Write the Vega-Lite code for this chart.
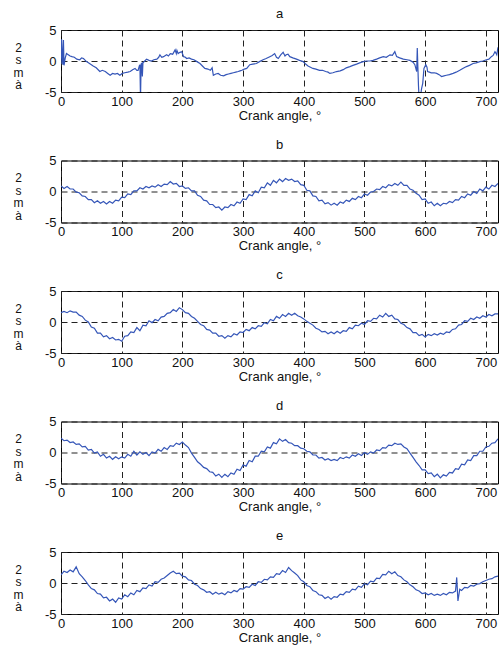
{
  "$schema": "https://vega.github.io/schema/vega-lite/v6.json",
  "background": "white",
  "padding": {"left": 12, "top": 7, "right": 2, "bottom": 0},
  "spacing": 68.5,
  "bounds": "flush",
  "config": {
    "font": "Liberation Sans",
    "view": {"stroke": "#000", "strokeWidth": 1},
    "title": {"font": "Liberation Sans", "fontSize": 13, "fontWeight": "normal", "color": "#111", "anchor": "middle", "baseline": "alphabetic", "offset": 3},
    "axis": {
      "labelFont": "Liberation Sans", "labelFontSize": 13, "labelColor": "#111",
      "titleFont": "Liberation Sans", "titleFontSize": 13, "titleFontWeight": "normal", "titleColor": "#111",
      "ticks": false, "domain": false,
      "grid": true, "gridColor": "#222", "gridDash": [6, 4], "gridWidth": 1, "gridOpacity": 1,
      "labelFlush": false
    },
    "axisX": {"labelPadding": 3, "titlePadding": 1},
    "axisY": {"labelPadding": 5, "titleAngle": 0, "titleX": -43, "titleY": 12, "titleAlign": "center", "titleBaseline": "top", "titleFontSize": 12, "titleLineHeight": 12.5}
  },
  "datasets": {
    "a": [
      {"x":0,"y":-0.5},{"x":1,"y":3.5},{"x":2,"y":1.0},{"x":3,"y":-0.6},{"x":4,"y":3.4},{"x":5,"y":-0.7},{"x":7,"y":0.5},{"x":9,"y":1.2},{"x":12,"y":1.0},{"x":15,"y":0.8},{"x":18,"y":0.7},{"x":22,"y":0.6},{"x":26,"y":0.3},{"x":31,"y":0.2},{"x":34,"y":0.5},{"x":37,"y":0.4},{"x":40,"y":0.1},{"x":42,"y":-0.1},{"x":47,"y":-0.4},{"x":53,"y":-0.8},{"x":58,"y":-1.1},{"x":64,"y":-1.7},{"x":68,"y":-1.5},{"x":73,"y":-1.7},{"x":77,"y":-2.0},{"x":81,"y":-2.3},{"x":85,"y":-2.0},{"x":89,"y":-2.1},{"x":93,"y":-2.0},{"x":97,"y":-2.3},{"x":101,"y":-2.0},{"x":105,"y":-1.9},{"x":110,"y":-1.8},{"x":114,"y":-1.7},{"x":118,"y":-1.4},{"x":122,"y":-1.2},{"x":125,"y":-1.5},{"x":127,"y":-1.5},{"x":129,"y":-0.8},{"x":130,"y":-0.6},{"x":131,"y":-6},{"x":132,"y":-0.5},{"x":133,"y":-0.4},{"x":134,"y":-2.5},{"x":135,"y":-0.3},{"x":138,"y":0.0},{"x":141,"y":0.3},{"x":145,"y":0.1},{"x":149,"y":0.0},{"x":153,"y":0.2},{"x":158,"y":0.3},{"x":161,"y":0.6},{"x":163,"y":1.0},{"x":166,"y":0.6},{"x":169,"y":0.7},{"x":172,"y":0.9},{"x":174,"y":1.0},{"x":177,"y":0.8},{"x":180,"y":1.2},{"x":184,"y":1.1},{"x":188,"y":1.8},{"x":190,"y":1.2},{"x":191,"y":1.7},{"x":193,"y":1.2},{"x":196,"y":1.4},{"x":199,"y":1.5},{"x":202,"y":0.7},{"x":205,"y":0.6},{"x":207,"y":0.4},{"x":211,"y":0.5},{"x":215,"y":0.3},{"x":219,"y":0.2},{"x":224,"y":-0.1},{"x":229,"y":-0.4},{"x":233,"y":-0.8},{"x":237,"y":-1.2},{"x":242,"y":-1.3},{"x":246,"y":-1.5},{"x":249,"y":-1.1},{"x":251,"y":-2.3},{"x":255,"y":-2.1},{"x":259,"y":-2.0},{"x":263,"y":-2.3},{"x":268,"y":-2.4},{"x":272,"y":-2.2},{"x":276,"y":-2.1},{"x":280,"y":-2.0},{"x":284,"y":-1.9},{"x":288,"y":-1.8},{"x":292,"y":-1.7},{"x":295,"y":-1.6},{"x":298,"y":-1.5},{"x":302,"y":-1.3},{"x":306,"y":-1.2},{"x":311,"y":-0.6},{"x":316,"y":-0.5},{"x":322,"y":-0.4},{"x":327,"y":-0.1},{"x":333,"y":0.2},{"x":338,"y":0.4},{"x":344,"y":0.7},{"x":348,"y":0.9},{"x":352,"y":1.2},{"x":355,"y":0.6},{"x":358,"y":0.4},{"x":362,"y":1.0},{"x":366,"y":1.4},{"x":369,"y":0.8},{"x":371,"y":1.0},{"x":374,"y":1.1},{"x":377,"y":0.7},{"x":382,"y":0.5},{"x":388,"y":0.3},{"x":393,"y":0.1},{"x":399,"y":-0.1},{"x":403,"y":-0.5},{"x":407,"y":-0.8},{"x":411,"y":-1.0},{"x":415,"y":-1.2},{"x":420,"y":-1.3},{"x":426,"y":-1.5},{"x":431,"y":-1.5},{"x":436,"y":-1.7},{"x":440,"y":-1.8},{"x":443,"y":-2.0},{"x":448,"y":-1.9},{"x":454,"y":-1.7},{"x":460,"y":-1.6},{"x":465,"y":-1.4},{"x":470,"y":-1.1},{"x":476,"y":-0.9},{"x":481,"y":-0.7},{"x":487,"y":-0.5},{"x":492,"y":-0.3},{"x":498,"y":-0.1},{"x":503,"y":0.0},{"x":509,"y":0.0},{"x":514,"y":0.1},{"x":520,"y":0.3},{"x":525,"y":0.5},{"x":531,"y":0.7},{"x":536,"y":0.6},{"x":542,"y":1.0},{"x":546,"y":0.9},{"x":550,"y":1.5},{"x":553,"y":0.7},{"x":558,"y":0.5},{"x":564,"y":0.3},{"x":570,"y":0.2},{"x":575,"y":0.1},{"x":580,"y":-0.2},{"x":583,"y":-0.6},{"x":586,"y":-1.7},{"x":587,"y":2.1},{"x":588,"y":-1.0},{"x":589,"y":-4.0},{"x":590,"y":-6},{"x":592,"y":-6},{"x":594,"y":-4.5},{"x":596,"y":-3.6},{"x":598,"y":-1.2},{"x":600,"y":-0.8},{"x":601,"y":-0.6},{"x":603,"y":-1.0},{"x":604,"y":-1.7},{"x":607,"y":-1.8},{"x":610,"y":-1.9},{"x":615,"y":-1.9},{"x":619,"y":-2.0},{"x":623,"y":-2.2},{"x":627,"y":-2.5},{"x":631,"y":-2.4},{"x":635,"y":-2.3},{"x":640,"y":-2.2},{"x":646,"y":-2.0},{"x":651,"y":-1.8},{"x":657,"y":-1.5},{"x":662,"y":-1.2},{"x":668,"y":-0.9},{"x":673,"y":-0.7},{"x":679,"y":-0.4},{"x":684,"y":-0.3},{"x":690,"y":-0.1},{"x":695,"y":0.0},{"x":701,"y":0.2},{"x":705,"y":0.3},{"x":709,"y":0.7},{"x":712,"y":0.9},{"x":715,"y":1.5},{"x":717,"y":1.2},{"x":718,"y":1.0},{"x":720,"y":2.2}
    ],
    "b": [
      {"x":0,"y":0.9},{"x":5,"y":0.5},{"x":10,"y":0.8},{"x":15,"y":0.4},{"x":20,"y":0.4},{"x":25,"y":-0.1},{"x":30,"y":-0.2},{"x":35,"y":-0.7},{"x":40,"y":-0.8},{"x":45,"y":-1.3},{"x":50,"y":-1.3},{"x":55,"y":-1.8},{"x":60,"y":-1.5},{"x":65,"y":-1.9},{"x":70,"y":-1.6},{"x":75,"y":-2.0},{"x":80,"y":-1.6},{"x":85,"y":-1.9},{"x":90,"y":-1.4},{"x":95,"y":-1.5},{"x":100,"y":-0.9},{"x":105,"y":-1.0},{"x":110,"y":-0.4},{"x":115,"y":-0.5},{"x":120,"y":0.1},{"x":125,"y":0.1},{"x":130,"y":0.6},{"x":135,"y":0.4},{"x":140,"y":0.8},{"x":145,"y":0.6},{"x":150,"y":0.9},{"x":155,"y":0.7},{"x":160,"y":1.1},{"x":165,"y":0.8},{"x":170,"y":1.2},{"x":175,"y":1.1},{"x":180,"y":1.6},{"x":185,"y":1.2},{"x":190,"y":1.3},{"x":195,"y":0.8},{"x":200,"y":0.9},{"x":205,"y":0.5},{"x":210,"y":0.6},{"x":215,"y":0.1},{"x":220,"y":0.1},{"x":225,"y":-0.6},{"x":230,"y":-0.8},{"x":235,"y":-1.4},{"x":240,"y":-1.5},{"x":245,"y":-2.1},{"x":250,"y":-2.1},{"x":255,"y":-2.6},{"x":260,"y":-2.5},{"x":265,"y":-3.0},{"x":270,"y":-2.5},{"x":275,"y":-2.6},{"x":280,"y":-2.1},{"x":285,"y":-2.3},{"x":290,"y":-1.7},{"x":295,"y":-1.9},{"x":300,"y":-1.2},{"x":305,"y":-1.3},{"x":310,"y":-0.5},{"x":315,"y":-0.7},{"x":320,"y":0.1},{"x":325,"y":-0.2},{"x":330,"y":0.7},{"x":335,"y":0.6},{"x":340,"y":1.4},{"x":345,"y":1.0},{"x":350,"y":1.8},{"x":355,"y":1.4},{"x":360,"y":2.0},{"x":365,"y":1.6},{"x":370,"y":2.1},{"x":375,"y":1.8},{"x":380,"y":2.0},{"x":385,"y":1.6},{"x":390,"y":1.7},{"x":395,"y":1.1},{"x":400,"y":1.0},{"x":405,"y":0.2},{"x":410,"y":0.1},{"x":415,"y":-0.7},{"x":420,"y":-0.8},{"x":425,"y":-1.5},{"x":430,"y":-1.4},{"x":435,"y":-2.0},{"x":440,"y":-1.8},{"x":445,"y":-2.2},{"x":450,"y":-1.9},{"x":455,"y":-2.2},{"x":460,"y":-1.7},{"x":465,"y":-1.9},{"x":470,"y":-1.4},{"x":475,"y":-1.6},{"x":480,"y":-1.1},{"x":485,"y":-1.3},{"x":490,"y":-0.8},{"x":495,"y":-1.0},{"x":500,"y":-0.4},{"x":505,"y":-0.6},{"x":510,"y":-0.1},{"x":515,"y":0.0},{"x":520,"y":0.4},{"x":525,"y":0.3},{"x":530,"y":0.8},{"x":535,"y":0.6},{"x":540,"y":1.1},{"x":545,"y":0.9},{"x":550,"y":1.3},{"x":555,"y":1.0},{"x":560,"y":1.5},{"x":565,"y":1.0},{"x":570,"y":1.0},{"x":575,"y":0.4},{"x":580,"y":0.2},{"x":585,"y":-0.3},{"x":590,"y":-0.6},{"x":595,"y":-1.3},{"x":600,"y":-1.2},{"x":605,"y":-1.9},{"x":610,"y":-1.7},{"x":615,"y":-2.3},{"x":620,"y":-1.9},{"x":625,"y":-2.3},{"x":630,"y":-1.9},{"x":635,"y":-2.0},{"x":640,"y":-1.6},{"x":645,"y":-1.8},{"x":650,"y":-1.3},{"x":655,"y":-1.4},{"x":660,"y":-0.8},{"x":665,"y":-1.0},{"x":670,"y":-0.4},{"x":675,"y":-0.6},{"x":680,"y":0.0},{"x":685,"y":-0.3},{"x":690,"y":0.4},{"x":695,"y":0.1},{"x":700,"y":0.7},{"x":705,"y":0.4},{"x":710,"y":1.0},{"x":715,"y":0.8},{"x":720,"y":1.3}
    ],
    "c": [
      {"x":0,"y":1.5},{"x":5,"y":1.7},{"x":10,"y":1.5},{"x":15,"y":1.8},{"x":20,"y":1.6},{"x":25,"y":1.6},{"x":30,"y":1.1},{"x":35,"y":0.9},{"x":40,"y":0.3},{"x":45,"y":0.0},{"x":50,"y":-0.8},{"x":55,"y":-1.0},{"x":60,"y":-1.8},{"x":65,"y":-1.8},{"x":70,"y":-2.4},{"x":75,"y":-2.2},{"x":80,"y":-2.7},{"x":85,"y":-2.5},{"x":90,"y":-2.9},{"x":95,"y":-2.8},{"x":100,"y":-3.1},{"x":105,"y":-2.3},{"x":110,"y":-2.2},{"x":115,"y":-1.6},{"x":120,"y":-1.7},{"x":125,"y":-0.9},{"x":130,"y":-1.4},{"x":135,"y":-0.5},{"x":140,"y":-0.6},{"x":145,"y":0.2},{"x":150,"y":-0.1},{"x":155,"y":0.4},{"x":160,"y":0.2},{"x":165,"y":0.8},{"x":170,"y":0.9},{"x":175,"y":1.4},{"x":180,"y":1.5},{"x":185,"y":2.0},{"x":190,"y":1.7},{"x":195,"y":2.3},{"x":200,"y":2.0},{"x":205,"y":1.5},{"x":210,"y":1.4},{"x":215,"y":0.9},{"x":220,"y":0.6},{"x":225,"y":0.1},{"x":230,"y":-0.4},{"x":235,"y":-0.6},{"x":240,"y":-1.2},{"x":245,"y":-1.3},{"x":250,"y":-1.8},{"x":255,"y":-1.8},{"x":260,"y":-2.3},{"x":265,"y":-2.2},{"x":270,"y":-2.6},{"x":275,"y":-2.2},{"x":280,"y":-2.4},{"x":285,"y":-1.9},{"x":290,"y":-2.1},{"x":295,"y":-1.6},{"x":300,"y":-1.7},{"x":305,"y":-1.2},{"x":310,"y":-1.4},{"x":315,"y":-0.9},{"x":320,"y":-1.1},{"x":325,"y":-0.6},{"x":330,"y":-0.7},{"x":335,"y":-0.1},{"x":340,"y":-0.3},{"x":345,"y":0.4},{"x":350,"y":0.2},{"x":355,"y":0.9},{"x":360,"y":0.6},{"x":365,"y":1.2},{"x":370,"y":0.9},{"x":375,"y":1.4},{"x":380,"y":1.1},{"x":385,"y":1.4},{"x":390,"y":1.0},{"x":395,"y":0.8},{"x":400,"y":0.5},{"x":405,"y":0.1},{"x":410,"y":-0.2},{"x":415,"y":-0.5},{"x":420,"y":-1.0},{"x":425,"y":-1.2},{"x":430,"y":-1.6},{"x":435,"y":-1.5},{"x":440,"y":-1.9},{"x":445,"y":-1.6},{"x":450,"y":-1.9},{"x":455,"y":-1.5},{"x":460,"y":-1.8},{"x":465,"y":-1.4},{"x":470,"y":-1.5},{"x":475,"y":-0.9},{"x":480,"y":-1.1},{"x":485,"y":-0.5},{"x":490,"y":-0.6},{"x":495,"y":-0.2},{"x":500,"y":-0.4},{"x":505,"y":0.2},{"x":510,"y":0.1},{"x":515,"y":0.6},{"x":520,"y":0.5},{"x":525,"y":1.1},{"x":530,"y":0.8},{"x":535,"y":1.4},{"x":540,"y":0.9},{"x":545,"y":1.1},{"x":550,"y":0.5},{"x":555,"y":0.4},{"x":560,"y":-0.2},{"x":565,"y":-0.4},{"x":570,"y":-0.9},{"x":575,"y":-1.1},{"x":580,"y":-1.7},{"x":585,"y":-1.7},{"x":590,"y":-2.2},{"x":595,"y":-2.0},{"x":600,"y":-2.4},{"x":605,"y":-2.0},{"x":610,"y":-2.2},{"x":615,"y":-1.9},{"x":620,"y":-2.1},{"x":625,"y":-1.8},{"x":630,"y":-2.0},{"x":635,"y":-1.6},{"x":640,"y":-1.7},{"x":645,"y":-1.2},{"x":650,"y":-1.1},{"x":655,"y":-0.5},{"x":660,"y":-0.4},{"x":665,"y":0.2},{"x":670,"y":0.1},{"x":675,"y":0.6},{"x":680,"y":0.4},{"x":685,"y":0.8},{"x":690,"y":0.6},{"x":695,"y":1.0},{"x":700,"y":0.8},{"x":705,"y":1.2},{"x":710,"y":1.0},{"x":715,"y":1.3},{"x":720,"y":1.3}
    ],
    "d": [
      {"x":0,"y":2.3},{"x":5,"y":1.9},{"x":10,"y":2.0},{"x":15,"y":1.6},{"x":20,"y":1.7},{"x":25,"y":1.3},{"x":30,"y":1.4},{"x":35,"y":0.9},{"x":40,"y":1.0},{"x":45,"y":0.4},{"x":50,"y":0.5},{"x":55,"y":-0.1},{"x":60,"y":0.1},{"x":65,"y":-0.6},{"x":70,"y":-0.3},{"x":75,"y":-0.9},{"x":80,"y":-0.6},{"x":85,"y":-1.1},{"x":90,"y":-0.7},{"x":95,"y":-1.0},{"x":100,"y":-0.7},{"x":105,"y":-0.9},{"x":110,"y":-0.3},{"x":115,"y":-0.6},{"x":120,"y":0.2},{"x":125,"y":-0.4},{"x":130,"y":0.1},{"x":135,"y":-0.3},{"x":140,"y":0.0},{"x":145,"y":-0.5},{"x":150,"y":0.1},{"x":155,"y":-0.1},{"x":160,"y":0.5},{"x":165,"y":0.2},{"x":170,"y":0.8},{"x":175,"y":0.5},{"x":180,"y":1.1},{"x":185,"y":1.0},{"x":190,"y":1.5},{"x":195,"y":1.3},{"x":200,"y":1.7},{"x":205,"y":1.2},{"x":210,"y":0.8},{"x":215,"y":-0.1},{"x":220,"y":-0.8},{"x":225,"y":-1.5},{"x":230,"y":-1.9},{"x":235,"y":-2.4},{"x":240,"y":-2.6},{"x":245,"y":-3.1},{"x":250,"y":-3.2},{"x":255,"y":-3.8},{"x":260,"y":-3.5},{"x":265,"y":-4.0},{"x":270,"y":-3.5},{"x":275,"y":-3.9},{"x":280,"y":-3.3},{"x":285,"y":-3.5},{"x":290,"y":-2.7},{"x":295,"y":-2.9},{"x":300,"y":-2.0},{"x":305,"y":-2.2},{"x":310,"y":-1.3},{"x":315,"y":-1.5},{"x":320,"y":-0.6},{"x":325,"y":-0.6},{"x":330,"y":0.2},{"x":335,"y":0.1},{"x":340,"y":0.9},{"x":345,"y":0.7},{"x":350,"y":1.6},{"x":355,"y":1.4},{"x":360,"y":2.2},{"x":365,"y":1.8},{"x":370,"y":2.1},{"x":375,"y":1.6},{"x":380,"y":1.5},{"x":385,"y":1.1},{"x":390,"y":1.1},{"x":395,"y":0.7},{"x":400,"y":0.6},{"x":405,"y":0.2},{"x":410,"y":0.1},{"x":415,"y":-0.4},{"x":420,"y":-0.4},{"x":425,"y":-0.9},{"x":430,"y":-0.8},{"x":435,"y":-1.2},{"x":440,"y":-1.0},{"x":445,"y":-1.3},{"x":450,"y":-1.1},{"x":455,"y":-1.3},{"x":460,"y":-0.8},{"x":465,"y":-1.0},{"x":470,"y":-0.7},{"x":475,"y":-0.9},{"x":480,"y":-0.4},{"x":485,"y":-0.6},{"x":490,"y":-0.2},{"x":495,"y":-0.5},{"x":500,"y":0.0},{"x":505,"y":-0.3},{"x":510,"y":0.1},{"x":515,"y":-0.1},{"x":520,"y":0.4},{"x":525,"y":0.3},{"x":530,"y":0.8},{"x":535,"y":0.7},{"x":540,"y":1.2},{"x":545,"y":1.1},{"x":550,"y":1.5},{"x":555,"y":1.3},{"x":560,"y":1.4},{"x":565,"y":0.9},{"x":570,"y":0.6},{"x":575,"y":-0.1},{"x":580,"y":-0.8},{"x":585,"y":-1.5},{"x":590,"y":-2.1},{"x":595,"y":-2.8},{"x":600,"y":-2.8},{"x":605,"y":-3.4},{"x":610,"y":-3.3},{"x":615,"y":-3.9},{"x":620,"y":-3.5},{"x":625,"y":-4.1},{"x":630,"y":-3.6},{"x":635,"y":-3.8},{"x":640,"y":-3.2},{"x":645,"y":-3.3},{"x":650,"y":-2.6},{"x":655,"y":-2.7},{"x":660,"y":-1.9},{"x":665,"y":-2.0},{"x":670,"y":-1.2},{"x":675,"y":-1.3},{"x":680,"y":-0.5},{"x":685,"y":-0.5},{"x":690,"y":0.2},{"x":695,"y":0.2},{"x":700,"y":0.9},{"x":705,"y":1.0},{"x":710,"y":1.5},{"x":715,"y":1.6},{"x":720,"y":2.2}
    ],
    "e": [
      {"x":0,"y":1.3},{"x":5,"y":1.9},{"x":10,"y":1.7},{"x":15,"y":2.1},{"x":20,"y":1.8},{"x":25,"y":2.6},{"x":30,"y":1.5},{"x":35,"y":1.0},{"x":40,"y":0.4},{"x":45,"y":-0.3},{"x":50,"y":-0.9},{"x":55,"y":-1.1},{"x":60,"y":-1.7},{"x":65,"y":-1.8},{"x":70,"y":-2.4},{"x":75,"y":-2.3},{"x":80,"y":-2.9},{"x":85,"y":-2.6},{"x":90,"y":-3.1},{"x":95,"y":-2.4},{"x":100,"y":-2.6},{"x":105,"y":-1.9},{"x":110,"y":-2.2},{"x":115,"y":-1.6},{"x":120,"y":-1.9},{"x":125,"y":-1.2},{"x":130,"y":-1.4},{"x":135,"y":-0.8},{"x":140,"y":-0.9},{"x":145,"y":-0.3},{"x":150,"y":-0.5},{"x":155,"y":0.2},{"x":160,"y":0.1},{"x":165,"y":0.6},{"x":170,"y":0.8},{"x":175,"y":1.2},{"x":180,"y":1.6},{"x":185,"y":1.9},{"x":190,"y":1.5},{"x":195,"y":1.6},{"x":200,"y":1.1},{"x":205,"y":1.0},{"x":210,"y":0.5},{"x":215,"y":0.4},{"x":220,"y":-0.2},{"x":225,"y":-0.4},{"x":230,"y":-0.9},{"x":235,"y":-1.1},{"x":240,"y":-1.5},{"x":245,"y":-1.4},{"x":250,"y":-1.8},{"x":255,"y":-1.5},{"x":260,"y":-1.8},{"x":265,"y":-1.6},{"x":270,"y":-1.9},{"x":275,"y":-1.4},{"x":280,"y":-1.6},{"x":285,"y":-1.2},{"x":290,"y":-1.4},{"x":295,"y":-0.9},{"x":300,"y":-1.0},{"x":305,"y":-0.6},{"x":310,"y":-0.7},{"x":315,"y":-0.2},{"x":320,"y":-0.4},{"x":325,"y":0.2},{"x":330,"y":0.1},{"x":335,"y":0.6},{"x":340,"y":0.5},{"x":345,"y":1.0},{"x":350,"y":0.9},{"x":355,"y":1.5},{"x":360,"y":1.4},{"x":365,"y":2.0},{"x":370,"y":1.7},{"x":375,"y":2.5},{"x":380,"y":2.0},{"x":385,"y":1.6},{"x":390,"y":1.2},{"x":395,"y":0.5},{"x":400,"y":0.2},{"x":405,"y":-0.4},{"x":410,"y":-0.6},{"x":415,"y":-1.2},{"x":420,"y":-1.4},{"x":425,"y":-1.9},{"x":430,"y":-2.0},{"x":435,"y":-2.5},{"x":440,"y":-2.2},{"x":445,"y":-2.6},{"x":450,"y":-2.2},{"x":455,"y":-2.3},{"x":460,"y":-1.8},{"x":465,"y":-1.9},{"x":470,"y":-1.4},{"x":475,"y":-1.5},{"x":480,"y":-1.0},{"x":485,"y":-1.1},{"x":490,"y":-0.5},{"x":495,"y":-0.7},{"x":500,"y":-0.1},{"x":505,"y":-0.3},{"x":510,"y":0.3},{"x":515,"y":0.2},{"x":520,"y":0.8},{"x":525,"y":0.7},{"x":530,"y":1.4},{"x":535,"y":1.3},{"x":540,"y":1.9},{"x":545,"y":1.5},{"x":550,"y":1.8},{"x":555,"y":1.2},{"x":560,"y":1.0},{"x":565,"y":0.5},{"x":570,"y":0.2},{"x":575,"y":-0.3},{"x":580,"y":-0.6},{"x":585,"y":-1.1},{"x":590,"y":-1.3},{"x":595,"y":-1.7},{"x":600,"y":-1.6},{"x":605,"y":-1.9},{"x":610,"y":-1.7},{"x":615,"y":-2.0},{"x":620,"y":-1.8},{"x":625,"y":-2.0},{"x":630,"y":-1.7},{"x":635,"y":-1.9},{"x":640,"y":-1.5},{"x":645,"y":-1.6},{"x":650,"y":-1.3},{"x":652,"y":0.9},{"x":654,"y":-2.9},{"x":657,"y":-1.0},{"x":660,"y":-1.2},{"x":665,"y":-0.7},{"x":670,"y":-0.8},{"x":675,"y":-0.4},{"x":680,"y":-0.5},{"x":685,"y":-0.2},{"x":690,"y":-0.1},{"x":695,"y":0.2},{"x":700,"y":0.4},{"x":705,"y":0.6},{"x":710,"y":0.7},{"x":715,"y":1.0},{"x":720,"y":1.1}
    ]
  },
  "vconcat": [
    {"width": 437, "height": 62, "title": "a", "data": {"name": "a"},
     "mark": {"type": "line", "color": "#3556b8", "strokeWidth": 1.2, "clip": true},
     "encoding": {
       "x": {"field": "x", "type": "quantitative", "scale": {"domain": [0, 720], "nice": false, "zero": false}, "axis": {"title": "Crank angle, °", "values": [0, 100, 200, 300, 400, 500, 600, 700]}},
       "y": {"field": "y", "type": "quantitative", "scale": {"domain": [-5, 5], "nice": false}, "axis": {"title": ["2\u00a0", "\u00a0s", "m", "à"], "values": [-5, 0, 5], "labelExpr": "'' + datum.value"}}
     }},
    {"width": 437, "height": 62, "title": "b", "data": {"name": "b"},
     "mark": {"type": "line", "color": "#3556b8", "strokeWidth": 1.2, "clip": true},
     "encoding": {
       "x": {"field": "x", "type": "quantitative", "scale": {"domain": [0, 720], "nice": false, "zero": false}, "axis": {"title": "Crank angle, °", "values": [0, 100, 200, 300, 400, 500, 600, 700]}},
       "y": {"field": "y", "type": "quantitative", "scale": {"domain": [-5, 5], "nice": false}, "axis": {"title": ["2\u00a0", "\u00a0s", "m", "à"], "values": [-5, 0, 5], "labelExpr": "'' + datum.value"}}
     }},
    {"width": 437, "height": 62, "title": "c", "data": {"name": "c"},
     "mark": {"type": "line", "color": "#3556b8", "strokeWidth": 1.2, "clip": true},
     "encoding": {
       "x": {"field": "x", "type": "quantitative", "scale": {"domain": [0, 720], "nice": false, "zero": false}, "axis": {"title": "Crank angle, °", "values": [0, 100, 200, 300, 400, 500, 600, 700]}},
       "y": {"field": "y", "type": "quantitative", "scale": {"domain": [-5, 5], "nice": false}, "axis": {"title": ["2\u00a0", "\u00a0s", "m", "à"], "values": [-5, 0, 5], "labelExpr": "'' + datum.value"}}
     }},
    {"width": 437, "height": 62, "title": "d", "data": {"name": "d"},
     "mark": {"type": "line", "color": "#3556b8", "strokeWidth": 1.2, "clip": true},
     "encoding": {
       "x": {"field": "x", "type": "quantitative", "scale": {"domain": [0, 720], "nice": false, "zero": false}, "axis": {"title": "Crank angle, °", "values": [0, 100, 200, 300, 400, 500, 600, 700]}},
       "y": {"field": "y", "type": "quantitative", "scale": {"domain": [-5, 5], "nice": false}, "axis": {"title": ["2\u00a0", "\u00a0s", "m", "à"], "values": [-5, 0, 5], "labelExpr": "'' + datum.value"}}
     }},
    {"width": 437, "height": 62, "title": "e", "data": {"name": "e"},
     "mark": {"type": "line", "color": "#3556b8", "strokeWidth": 1.2, "clip": true},
     "encoding": {
       "x": {"field": "x", "type": "quantitative", "scale": {"domain": [0, 720], "nice": false, "zero": false}, "axis": {"title": "Crank angle, °", "values": [0, 100, 200, 300, 400, 500, 600, 700]}},
       "y": {"field": "y", "type": "quantitative", "scale": {"domain": [-5, 5], "nice": false}, "axis": {"title": ["2\u00a0", "\u00a0s", "m", "à"], "values": [-5, 0, 5], "labelExpr": "'' + datum.value"}}
     }}
  ]
}
